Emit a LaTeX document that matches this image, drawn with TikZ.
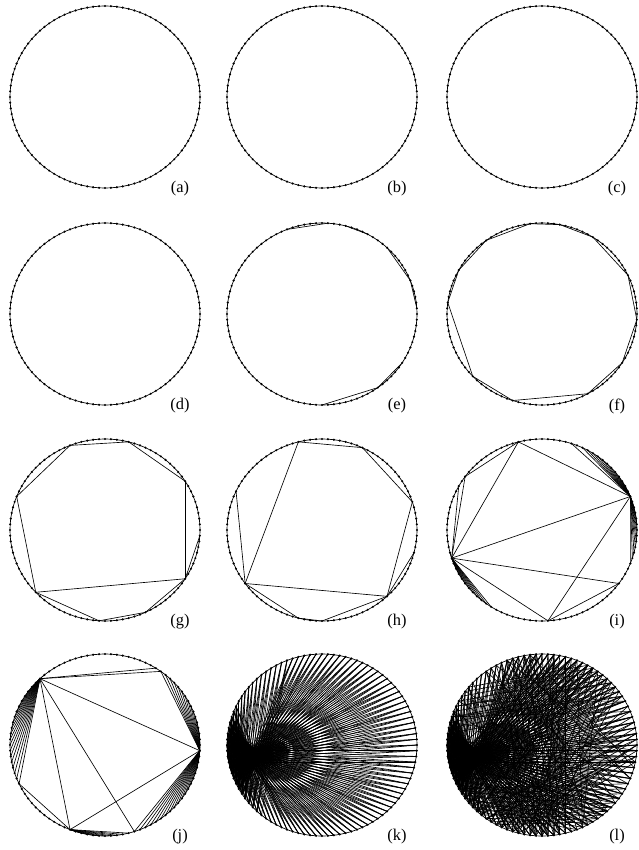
\documentclass[tikz,border=0pt]{standalone}
\usepackage{fontspec}
\setmainfont{Liberation Serif}
\tikzset{
  ring/.style={line width=0.6pt},
  chord/.style={line width=0.55pt},
  tag/.style={font=\fontsize{14}{16}\selectfont, inner sep=0pt},
}
\begin{document}
\begin{tikzpicture}[x=0.03cm,y=-0.03cm]
  \useasboundingbox (0,0) rectangle (638,850);
  % twelve rings of 100 vertices
  \foreach \p/\cx/\cy in {a/105/97,b/322/97,c/542/97,d/105/314,e/322/314,f/542/314,
                          g/105/530,h/322/530,i/542/530,j/105/745,k/322/745,l/542/745}{
    \foreach \n in {0,...,99}
      \path (\cx,\cy) ++(\n*3.6:95 and 91) coordinate (\p-\n);
    \draw[ring] (\p-0) \foreach \n in {1,...,99}{ -- (\p-\n)} -- cycle;
    \foreach \n in {0,...,99} \fill (\p-\n) circle (1.2);
    \path (\cx,\cy) ++(75,92) node[tag] (tag-\p) {(\p)};
  }
  % (e)
  \foreach \u/\v in {15/25,9/15,87/94,94/99,69/76,79/83}
    \draw[chord] (e-\u) -- (e-\v);
  % (f)
  \foreach \u/\v in {1/9,9/17,17/30,30/38,38/52,52/58,58/65,65/73,73/78,78/84,84/93,93/1}
    \draw[chord] (f-\u) -- (f-\v);
  % (g)
  \foreach \u/\v in {56/69,69/79,79/91,91/9,9/38,38/56,38/26,26/18,18/9,9/1}
    \draw[chord] (g-\u) -- (g-\v);
  % (h)
  \foreach \u/\v in {40/71,71/82,82/95,95/13,13/40,40/57,40/29,29/25,25/13,13/4}
    \draw[chord] (h-\u) -- (h-\v);
  % (i)
  \foreach \u/\v in {71/94,71/45,94/45,45/10,45/24,24/94,24/10,94/80,60/45,60/71}
    \draw[chord] (i-\u) -- (i-\v);
  \foreach \n in {82,...,93,95,96,97,98,99,0,1,2,3,4,5,6}
    \draw[chord] (i-94) -- (i-\n);
  \foreach \n in {34,...,44,46,...,58}
    \draw[chord] (i-45) -- (i-\n);
  % (j)
  \foreach \u/\v in {63/85,63/1,63/20,63/31,63/43,85/1,1/31,1/20,43/31}
    \draw[chord] (j-\u) -- (j-\v);
  \foreach \n in {44,...,62,64,...,84}
    \draw[chord] (j-63) -- (j-\n);
  \foreach \n in {86,...,99,2,3,...,19}
    \draw[chord] (j-1) -- (j-\n);
  \foreach \n in {21,...,30}
    \draw[chord] (j-31) -- (j-\n);
  % (k) and (l): fan into the left side
  \foreach \p in {k,l}
    \foreach \n in {0,...,99}{
      \pgfmathsetmacro\t{\n*3.6-360*(\n>50)}
      \pgfmathsetmacro\f{abs(\t)<110 ? 172+0.2*\t : 172-0.5*(\n*3.6-172)}
      \foreach \o in {-1,0,1}{
        \pgfmathtruncatemacro\h{mod(round(\f/3.6)+\o+100,100)}
        \draw[chord] (\p-\n) -- (\p-\h);
      }
    }
  % (l): long chords
  \foreach \m in {0,...,59}{
    \pgfmathtruncatemacro\u{mod(\m*37,100)}
    \pgfmathtruncatemacro\v{mod(\u+30+mod(\m*17,41),100)}
    \draw[chord] (l-\u) -- (l-\v);
  }
  % (l): parallel hatching
  \foreach \m in {0,...,9}{
    \pgfmathtruncatemacro\s{mod(\m*29+7,100)}
    \pgfmathtruncatemacro\r{35+mod(\m*13,30)}
    \foreach \q in {0,...,9}{
      \pgfmathtruncatemacro\u{mod(\s+\q,100)}
      \pgfmathtruncatemacro\v{mod(\s+\r-\q+200,100)}
      \draw[chord] (l-\u) -- (l-\v);
    }
  }
\end{tikzpicture}
\end{document}
